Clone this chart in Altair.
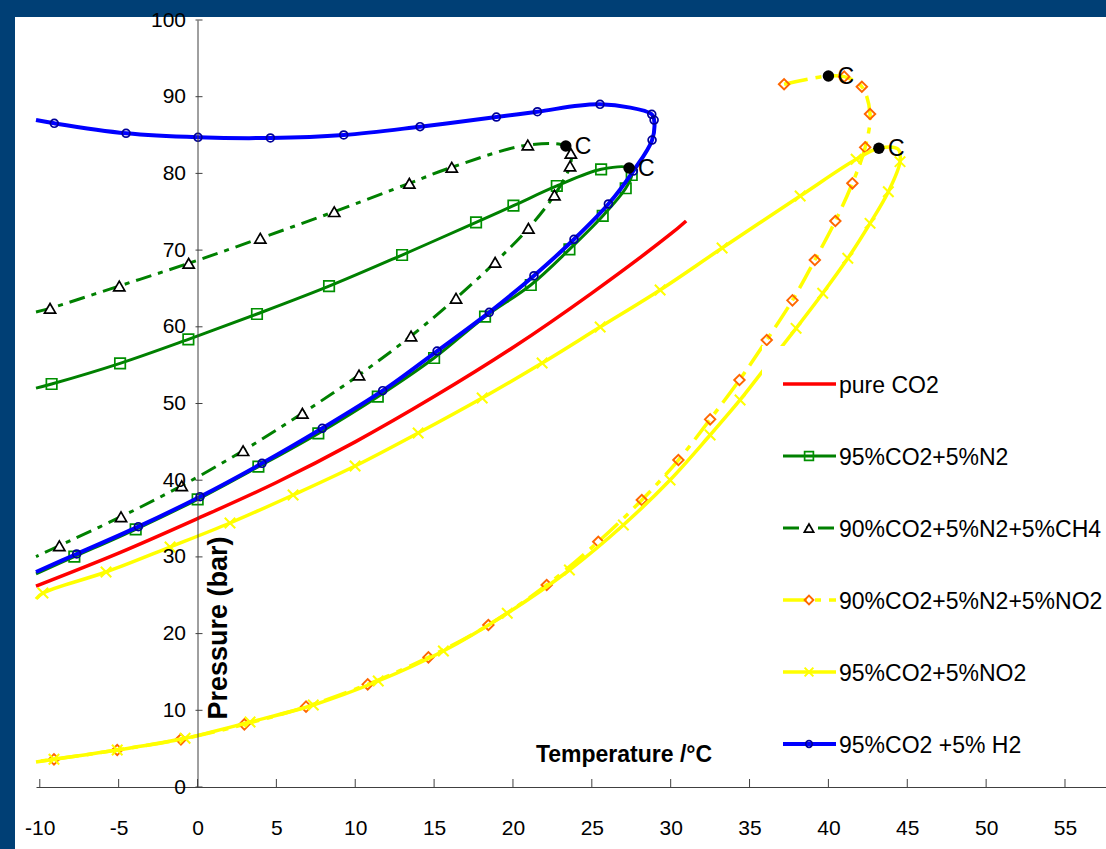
import altair as alt
import pandas as pd

# ---------------- data ----------------
series_names = ["pure CO2", "95%CO2+5%N2", "90%CO2+5%N2+5%CH4",
                "90%CO2+5%N2+5%NO2", "95%CO2+5%NO2", "95%CO2 +5% H2"]

co2_T = [-10.24, -5, 0, 5, 10, 15, 20, 25, 30, 30.98]
co2_P = [26.2, 30.5, 35.0, 39.7, 45.0, 50.9, 57.3, 64.4, 72.1, 73.8]
co2_M = [0, 0, 0, 0, 0, 0, 0, 0, 0, 0]

n2_T = [-10.24, -9.25, -4.91, -0.58, 3.77, 8.34, 12.97, 17.66, 20.03, 22.78, 25.59, 27.36,
        27.53, 27.15, 25.69, 23.58, 21.13, 18.23, 15.0, 11.43, 7.66, 3.86, 0.01, -3.92, -7.81, -10.24]
n2_P = [52.0, 52.54, 55.24, 58.37, 61.67, 65.3, 69.36, 73.62, 75.79, 78.36, 80.53, 80.70,
        79.79, 78.06, 74.45, 70.10, 65.45, 61.32, 55.93, 50.89, 46.11, 41.76, 37.51, 33.60, 30.03, 27.8]
n2_M = [0, 1, 1, 1, 1, 1, 1, 1, 1, 1, 1, 0,
        1, 1, 1, 1, 1, 1, 1, 1, 1, 1, 1, 1, 1, 0]

ch4_T = [-10.24, -9.35, -4.96, -0.56, 3.98, 8.67, 13.43, 16.12, 20.94, 23.35,
         23.67, 23.62, 22.63, 20.98, 18.87, 16.39, 13.54, 10.24, 6.65, 2.89, -1.0, -4.85, -8.76, -10.24]
ch4_P = [61.93, 62.41, 65.32, 68.28, 71.54, 75.01, 78.71, 80.80, 83.70, 83.57,
         82.62, 80.96, 77.18, 72.84, 68.41, 63.72, 58.80, 53.72, 48.72, 43.85, 39.28, 35.24, 31.46, 30.03]
ch4_M = [0, 1, 1, 1, 1, 1, 1, 1, 1, 0,
         1, 1, 1, 1, 1, 1, 1, 1, 1, 1, 1, 1, 1, 0]

n2no2_T = [37.19, 40.0, 41.0, 42.12, 42.64, 42.33, 41.52, 40.44, 39.14, 37.72, 36.09, 34.36,
           32.50, 30.49, 28.17, 25.41, 22.14, 18.44, 14.64, 10.79, 6.88, 2.97, -1.05, -5.09, -9.10, -10.24]
n2no2_P = [91.62, 92.70, 92.61, 91.30, 87.74, 83.40, 78.71, 73.79, 68.71, 63.45, 58.28, 53.06,
           47.94, 42.63, 37.42, 31.98, 26.34, 21.12, 16.91, 13.39, 10.47, 8.17, 6.22, 4.82, 3.61, 3.30]
n2no2_M = [1, 0, 1, 1, 1, 1, 1, 1, 1, 1, 1, 1,
           1, 1, 1, 1, 1, 1, 1, 1, 1, 1, 1, 1, 1, 0]

no2_T = [-10.24, -9.80, -5.80, -1.74, 2.06, 6.06, 9.99, 13.99, 18.05, 21.85, 25.53, 29.33, 33.26,
         38.21, 41.76, 43.20, 44.41, 44.54, 43.80, 42.64, 41.23, 39.64, 37.95, 36.18, 34.40, 32.50,
         29.96, 27.0, 23.58, 19.64, 15.59, 11.46, 7.34, 3.33, -0.79, -5.09, -9.10, -10.24]
no2_P = [24.51, 25.29, 28.03, 31.29, 34.42, 38.07, 41.85, 46.15, 50.72, 55.28, 59.97, 64.80, 70.27,
         77.05, 81.84, 83.27, 83.18, 81.53, 77.61, 73.49, 68.93, 64.37, 59.80, 55.15, 50.46, 45.89,
         40.03, 34.16, 28.29, 22.65, 17.73, 13.82, 10.69, 8.47, 6.35, 4.82, 3.61, 3.26]
no2_M = [0, 1, 1, 1, 1, 1, 1, 1, 1, 1, 1, 1, 1,
         1, 1, 0, 0, 1, 1, 1, 1, 1, 1, 1, 1, 1,
         1, 1, 1, 1, 1, 1, 1, 1, 1, 1, 1, 0]

h2_T = [-10.24, -9.08, -4.53, 0.03, 4.62, 9.27, 14.11, 18.95, 21.55, 25.52, 28.80, 28.95,
        28.82, 27.63, 26.05, 23.87, 21.33, 18.50, 15.19, 11.74, 7.91, 4.09, 0.16, -3.75, -7.66, -10.24]
h2_P = [86.96, 86.53, 85.23, 84.71, 84.62, 85.01, 86.09, 87.35, 88.04, 89.01, 87.71, 86.96,
        84.35, 80.31, 76.01, 71.41, 66.66, 61.89, 56.84, 51.67, 46.77, 42.20, 37.85, 33.94, 30.38, 28.03]
h2_M = [0, 1, 1, 1, 1, 1, 1, 1, 1, 1, 1, 1,
        1, 1, 1, 1, 1, 1, 1, 1, 1, 1, 1, 1, 1, 0]

crit_T = [23.35, 27.36, 40.0, 43.20]
crit_P = [83.57, 80.70, 92.70, 83.27]
crit_label = ["C", "C", "C", "C"]

x_ticks = [-10, -5, 0, 5, 10, 15, 20, 25, 30, 35, 40, 45, 50, 55]
y_ticks = [0, 10, 20, 30, 40, 50, 60, 70, 80, 90, 100]

x_title = "Temperature /°C"
y_title = "Pressure (bar)"

# ---------------- layout / style ----------------
XMIN, XMAX = -10.24, 57.6
W, H = 1070, 767
FONT = "Liberation Sans"
X0PX = (0 - XMIN) * W / (XMAX - XMIN)

series_data = [
    (co2_T, co2_P, co2_M),
    (n2_T, n2_P, n2_M),
    (ch4_T, ch4_P, ch4_M),
    (n2no2_T, n2no2_P, n2no2_M),
    (no2_T, no2_P, no2_M),
    (h2_T, h2_P, h2_M),
]

styles = [
    dict(color="#FF0000", width=3.5, dash=None, shape=None),
    dict(color="#008000", width=3, dash=None, shape="square", mstroke="#009000",
         mfill=None, size=110, msw=1.7),
    dict(color="#008000", width=3, dash=[16, 7, 5, 7], shape="triangle-up", mstroke="#000000",
         mfill="#FFFFFF", size=125, msw=1.7),
    dict(color="#FFFF00", width=3.5, dash=[24, 8, 6, 8], shape="diamond", mstroke="#FF6600",
         mfill=None, size=110, msw=1.9),
    dict(color="#FFFF00", width=3.5, dash=None, shape="M-1,-1L1,1M-1,1L1,-1", mstroke="#FFFF00",
         mfill=None, size=110, msw=2),
    dict(color="#0000FF", width=4, dash=None, shape="circle", mstroke="#000099",
         mfill=None, size=62, msw=1.7),
]

X = alt.X("T:Q", scale=alt.Scale(domain=[XMIN, XMAX], nice=False, zero=False),
          axis=alt.Axis(values=x_ticks, title=None, ticks=False, tickSize=0, grid=False,
                        labelPadding=30, labelFontSize=21, labelFont=FONT, labelColor="#000000",
                        domainColor="#404040", domainWidth=1, zindex=1, labelFlush=False,
                        labelExpr="'' + datum.value"))
Y = alt.Y("P:Q", scale=alt.Scale(domain=[0, 100], nice=False),
          axis=alt.Axis(values=y_ticks, title=None, ticks=False, tickSize=0, grid=False,
                        offset=-X0PX, labelPadding=12, labelFontSize=21, labelFont=FONT,
                        labelColor="#000000", domainColor="#404040", domainWidth=1, zindex=1))

one = pd.DataFrame({"k": [0]})

layers = []
# white panel on the blue frame
layers.append(alt.Chart(one).mark_rect(color="white").encode(
    x=alt.value(-21), x2=alt.value(W), y=alt.value(-3), y2=alt.value(H + 62)))

for name, (T, P, M), st in zip(series_names, series_data, styles):
    df = pd.DataFrame({"T": T, "P": P, "m": M, "i": list(range(len(T))), "series": name})
    lkw = dict(color=st["color"], strokeWidth=st["width"], interpolate="catmull-rom")
    if st["dash"]:
        lkw["strokeDash"] = st["dash"]
    layers.append(alt.Chart(df).mark_line(**lkw).encode(x=X, y=Y, order="i:Q"))
    if st["shape"]:
        pkw = dict(shape=st["shape"], size=st["size"], stroke=st["mstroke"],
                   strokeWidth=st["msw"], opacity=1)
        if st["mfill"]:
            pkw.update(filled=True, fill=st["mfill"])
        else:
            pkw.update(filled=False)
        layers.append(alt.Chart(df).transform_filter("datum.m == 1")
                      .mark_point(**pkw).encode(x=X, y=Y))

crit_df = pd.DataFrame({"T": crit_T, "P": crit_P, "lab": crit_label})
layers.append(alt.Chart(crit_df).mark_point(shape="circle", filled=True, color="#000000",
                                            size=130, opacity=1).encode(x=X, y=Y))
layers.append(alt.Chart(crit_df).mark_text(align="left", baseline="middle", dx=9, dy=1,
                                           fontSize=23, font=FONT, color="#000000")
              .encode(x=X, y=Y, text="lab:N"))

# inward tick marks
layers.append(alt.Chart(pd.DataFrame({"T": x_ticks})).mark_rule(color="#404040", strokeWidth=1)
              .encode(x=X, y=alt.value(H - 8), y2=alt.value(H)))
layers.append(alt.Chart(pd.DataFrame({"P": y_ticks})).mark_rule(color="#404040", strokeWidth=1)
              .encode(y=Y, x=alt.value(X0PX - 2), x2=alt.value(X0PX + 5)))

# legend box
layers.append(alt.Chart(one).mark_rect(color="white").encode(
    x=alt.value(726), x2=alt.value(W), y=alt.value(326), y2=alt.value(752)))

for k, (name, st) in enumerate(zip(series_names, styles)):
    ly = 364 + 72 * k
    ldf = pd.DataFrame({"series": [name]})
    rkw = dict(color=st["color"], strokeWidth=st["width"])
    if st["dash"]:
        rkw["strokeDash"] = st["dash"]
    layers.append(alt.Chart(ldf).mark_rule(**rkw).encode(
        x=alt.value(747), x2=alt.value(800), y=alt.value(ly)))
    if st["shape"]:
        pkw = dict(shape=st["shape"], size=st["size"] * 0.7, stroke=st["mstroke"],
                   strokeWidth=st["msw"], opacity=1)
        if st["mfill"]:
            pkw.update(filled=True, fill=st["mfill"])
        else:
            pkw.update(filled=False)
        layers.append(alt.Chart(ldf).mark_point(**pkw).encode(x=alt.value(773), y=alt.value(ly)))
    layers.append(alt.Chart(ldf).mark_text(align="left", baseline="middle", fontSize=23,
                                           font=FONT, color="#000000")
                  .encode(x=alt.value(803), y=alt.value(ly + 2), text="series:N"))

# axis titles placed as in the reference
layers.append(alt.Chart(pd.DataFrame({"t": [x_title]})).mark_text(
    fontSize=23, fontWeight="bold", font=FONT, color="#000000", align="center",
    baseline="middle").encode(x=alt.value(588), y=alt.value(735), text="t:N"))
layers.append(alt.Chart(pd.DataFrame({"t": [y_title]})).mark_text(
    fontSize=27, fontWeight="bold", font=FONT, color="#000000", align="center",
    baseline="middle", angle=270).encode(x=alt.value(183), y=alt.value(608), text="t:N"))

chart = alt.layer(*layers).properties(
    width=W, height=H,
    autosize=alt.AutoSizeParams(type="none"),
    padding={"left": 36, "top": 20, "right": 0, "bottom": 62},
    background="#003F75",
).configure_view(strokeWidth=0, fill=None)

chart.save("out.html", embed_options={"renderer": "svg", "actions": False})
